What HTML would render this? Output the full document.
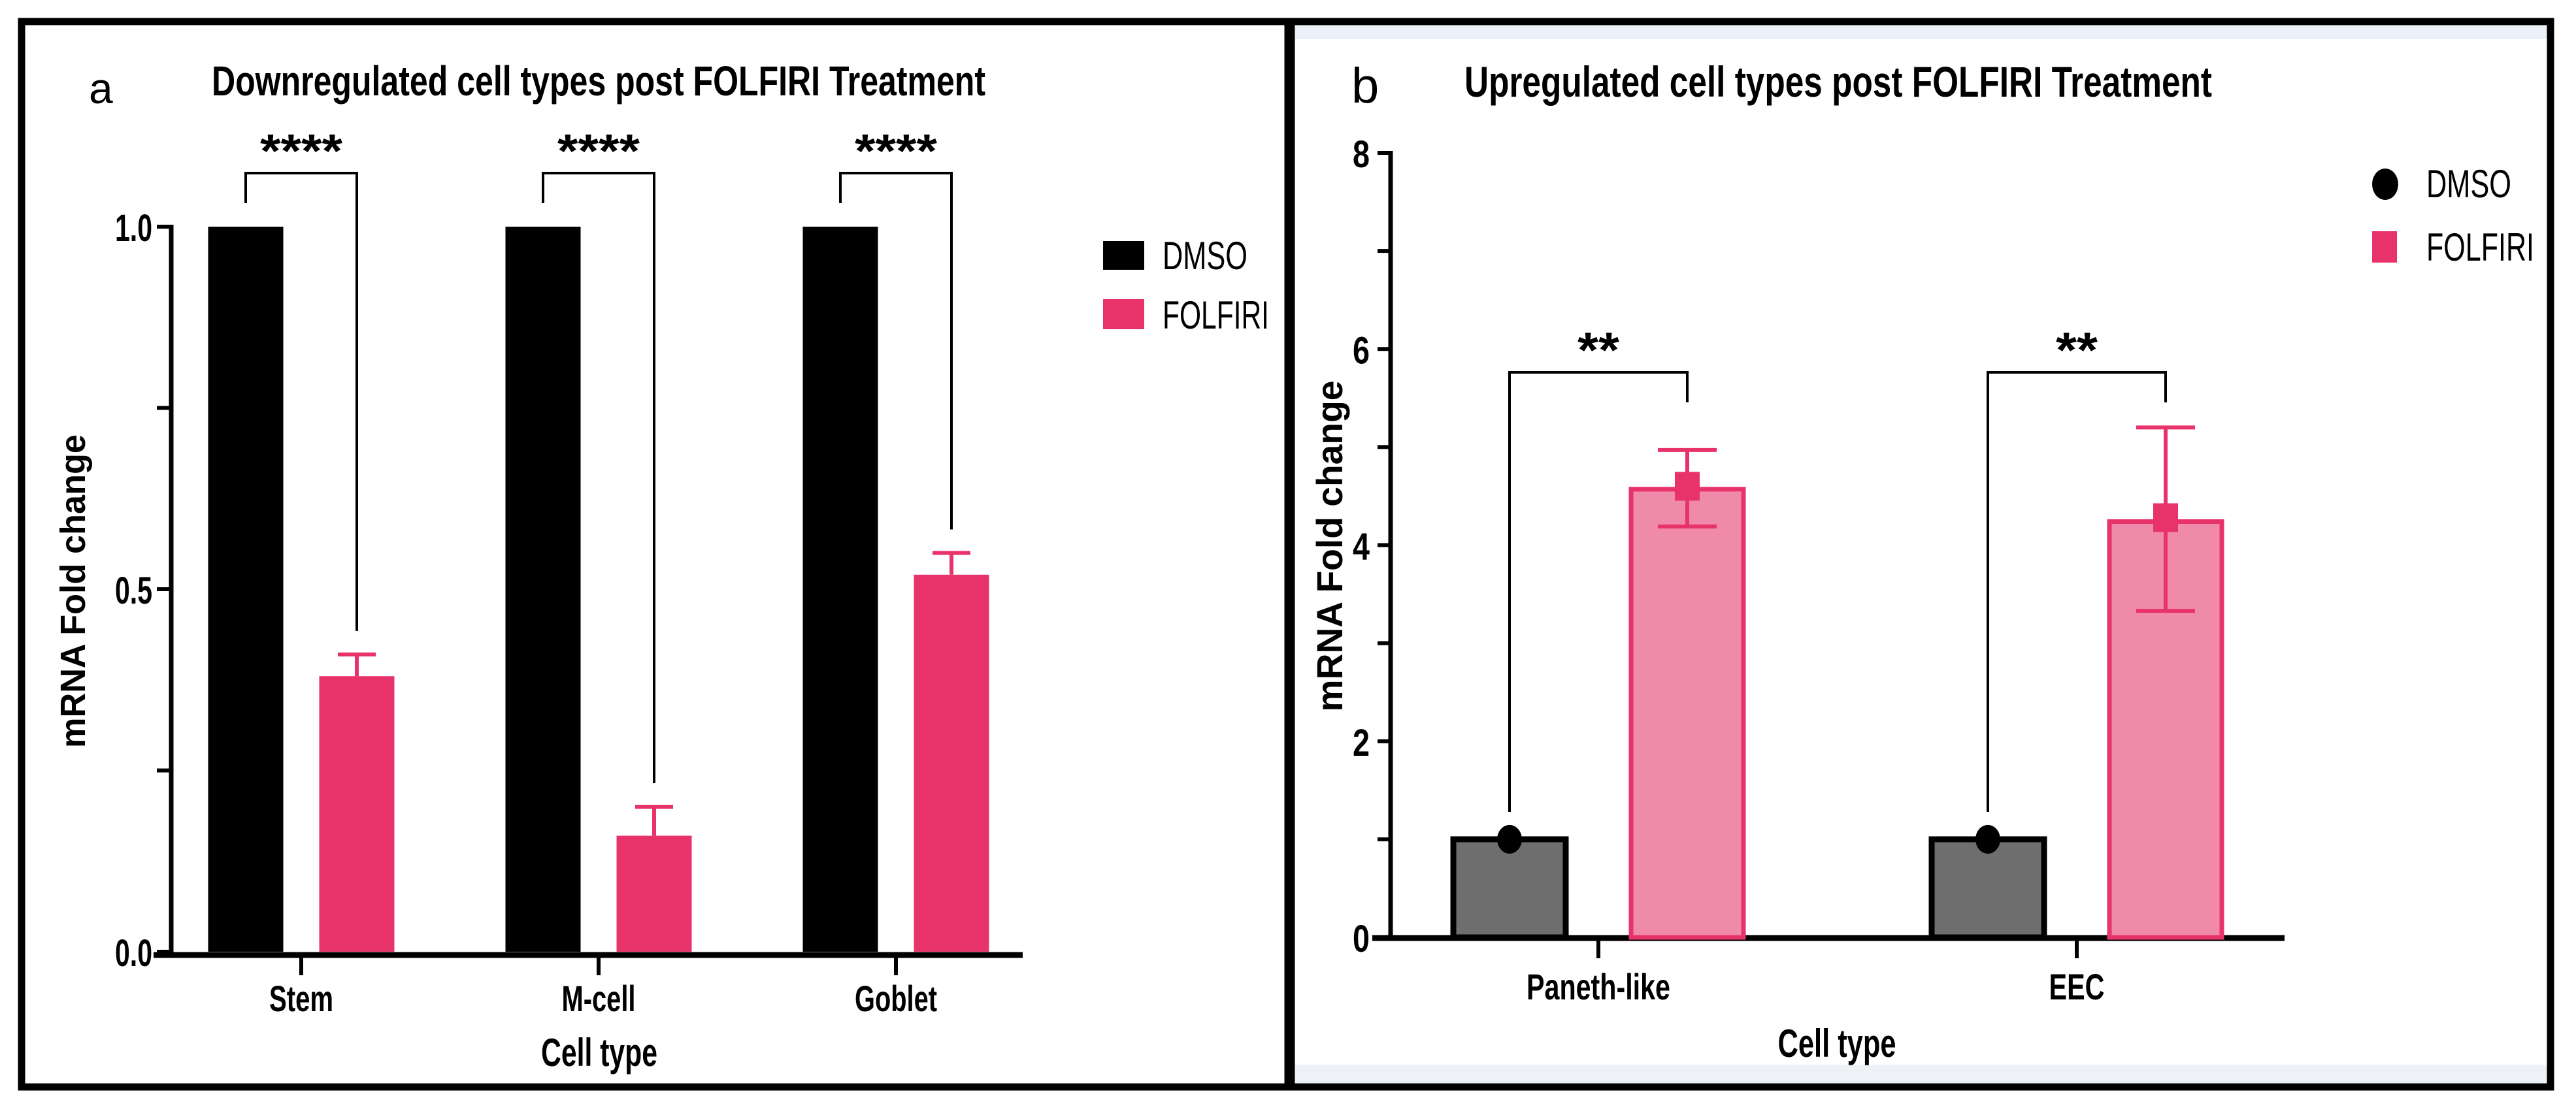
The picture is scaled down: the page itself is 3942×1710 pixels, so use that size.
<!DOCTYPE html>
<html><head><meta charset="utf-8"><style>
html,body{margin:0;padding:0;background:#fff;}
svg{display:block;}
text{font-family:"Liberation Sans",sans-serif;}
</style></head><body>
<svg id="fig" width="3942" height="1710" viewBox="0 0 3942 1710" xmlns="http://www.w3.org/2000/svg">
<rect x="0" y="0" width="3942" height="1710" fill="#fff"/>
<rect x="1981" y="38" width="1919" height="22" fill="#eaf1f9"/>
<rect x="1981" y="1630" width="1919" height="30" fill="#eef2f6"/>
<rect x="33" y="33" width="1938" height="1631" fill="none" stroke="#000" stroke-width="11"/>
<rect x="1976" y="33" width="1927" height="1631" fill="none" stroke="#000" stroke-width="11"/>
<g id="pa"></g>
<g id="pb"></g>
</svg>
<script>
// Panel a data
const catsA = ["Stem", "M-cell", "Goblet"];
const dmsoA = [1.0, 1.0, 1.0];
const folfA = [0.38, 0.16, 0.52];
const folfErrA = [0.03, 0.04, 0.03];
const yTicksA = [0.0, 0.5, 1.0];
const yTickLabelsA = ["0.0", "0.5", "1.0"];
const sigA = ["****", "****", "****"];
// Panel b data
const catsB = ["Paneth-like", "EEC"];
const dmsoB = [1.0, 1.0];
const folfB = [4.57, 4.24];
const folfMarkB = [4.6, 4.28];
const folfErrHiB = [4.97, 5.2];
const folfErrLoB = [4.19, 3.33];
const yTicksB = [0, 2, 4, 6, 8];
const yTickLabelsB = ["0", "2", "4", "6", "8"];
const sigB = ["**", "**"];

const NS = "http://www.w3.org/2000/svg";
function mk(parent, tag, attrs, txt) {
  const e = document.createElementNS(NS, tag);
  for (const k in attrs) e.setAttribute(k, attrs[k]);
  if (txt !== undefined) e.textContent = txt;
  parent.appendChild(e);
  return e;
}
// condensed text: fit to width
function tx(parent, attrs, txt, w) {
  const a = Object.assign({}, attrs);
  if (w) { a.textLength = w; a.lengthAdjust = "spacingAndGlyphs"; }
  return mk(parent, "text", a, txt);
}
const PINK = "#e8336a";
const labW = {"Stem": 98, "M-cell": 113, "Goblet": 126, "Paneth-like": 220, "EEC": 85};

// ---------- Panel a ----------
(function () {
  const g = document.getElementById("pa");
  const y0 = 1457, y1 = 347;
  const ya = v => y0 - v * (y0 - y1);
  const xc = i => 461 + i * 455;
  const bw = 115, off = 85;
  let t;
  t = tx(g, {x: 136, y: 158, "font-size": 66}, "a");
  
  
  t = tx(g, {x: 324, y: 146, "font-size": 64, "font-weight": "bold"}, "Downregulated cell types post FOLFIRI Treatment", 1184);
  
  
  let a = mk(g, "line", {x1: 262, y1: y1 - 3, x2: 262, y2: y0 + 8, stroke: "#000", "stroke-width": 7});
  
  
  a = mk(g, "line", {x1: 235, y1: y0 + 5, x2: 1565, y2: y0 + 5, stroke: "#000", "stroke-width": 9});
  
  
  for (let v = 0; v <= 1.0001; v += 0.25) {
    const l = mk(g, "line", {x1: 240, y1: ya(v), x2: 262, y2: ya(v), stroke: "#000", "stroke-width": 6});
    
    
  }
  yTicksA.forEach((v, i) => {
    const tt = tx(g, {x: 176, y: ya(v) + 22, "font-size": 58, "font-weight": "bold"}, yTickLabelsA[i], 57);
    
    
  });
  t = tx(g, {x: 0, y: 0, "font-size": 54, "font-weight": "bold", "text-anchor": "middle", transform: "translate(130,905) rotate(-90)"}, "mRNA Fold change", 480);
  
  
  t = tx(g, {x: 917, y: 1632, "font-size": 60, "font-weight": "bold", "text-anchor": "middle"}, "Cell type", 178);
  
  
  catsA.forEach((c, i) => {
    const x = xc(i);
    let e = mk(g, "line", {x1: x, y1: y0 + 8, x2: x, y2: y0 + 36, stroke: "#000", "stroke-width": 6});
    
    
    e = tx(g, {x: x, y: 1548, "font-size": 56, "font-weight": "bold", "text-anchor": "middle"}, c, labW[c]);
    
    
    e = mk(g, "rect", {x: x - off - bw / 2, y: ya(dmsoA[i]), width: bw, height: y0 - ya(dmsoA[i]), fill: "#000"});
    
    
    e = mk(g, "rect", {x: x + off - bw / 2, y: ya(folfA[i]), width: bw, height: y0 - ya(folfA[i]), fill: PINK});
    
    
    const eh = ya(folfA[i] + folfErrA[i]);
    e = mk(g, "path", {d: `M${x + off},${ya(folfA[i])}V${eh}M${x + off - 29},${eh}H${x + off + 29}`, stroke: PINK, "stroke-width": 6, fill: "none"});
    
    
    const bl = x - off, br = x + off, by = 265;
    e = mk(g, "path", {d: `M${bl},311V${by}H${br}V${eh - 36}`, stroke: "#000", "stroke-width": 4, fill: "none"});
    
    
    e = tx(g, {x: x - 63, y: 256, "font-size": 72, "font-weight": "bold"}, sigA[i], 126);
    
    
  });
  let e = mk(g, "rect", {x: 1688, y: 369, width: 63, height: 44, fill: "#000"});
  
  
  e = tx(g, {x: 1779, y: 412, "font-size": 60}, "DMSO", 130);
  
  
  e = mk(g, "rect", {x: 1688, y: 458, width: 63, height: 46, fill: PINK});
  
  
  e = tx(g, {x: 1779, y: 503, "font-size": 60}, "FOLFIRI", 163);
  
  
})();

// ---------- Panel b ----------
(function () {
  const g = document.getElementById("pb");
  const y0 = 1435, y8 = 234;
  const yb = v => y0 - v * (y0 - y8) / 8;
  const xc = i => 2446 + i * 732;
  const bw = 172, off = 136;
  let t;
  t = tx(g, {x: 2068, y: 157, "font-size": 76}, "b");
  
  
  t = tx(g, {x: 2241, y: 148, "font-size": 66, "font-weight": "bold"}, "Upregulated cell types post FOLFIRI Treatment", 1144);
  
  
  let a = mk(g, "line", {x1: 2128, y1: y8 - 3, x2: 2128, y2: y0 + 5, stroke: "#000", "stroke-width": 7});
  
  
  a = mk(g, "line", {x1: 2100, y1: y0 + 1, x2: 3496, y2: y0 + 1, stroke: "#000", "stroke-width": 9});
  
  
  for (let v = 0; v <= 8; v++) {
    const l = mk(g, "line", {x1: 2108, y1: yb(v), x2: 2128, y2: yb(v), stroke: "#000", "stroke-width": 6});
    
    
  }
  yTicksB.forEach((v, i) => {
    const tt = tx(g, {x: 2070, y: yb(v) + 22, "font-size": 58, "font-weight": "bold"}, yTickLabelsB[i], 26);
    
    
  });
  t = tx(g, {x: 0, y: 0, "font-size": 56, "font-weight": "bold", "text-anchor": "middle", transform: "translate(2054,836) rotate(-90)"}, "mRNA Fold change", 507);
  
  
  t = tx(g, {x: 2811, y: 1618, "font-size": 60, "font-weight": "bold", "text-anchor": "middle"}, "Cell type", 181);
  
  
  catsB.forEach((c, i) => {
    const x = xc(i);
    let e = mk(g, "line", {x1: x, y1: y0 + 5, x2: x, y2: y0 + 32, stroke: "#000", "stroke-width": 6});
    
    
    e = tx(g, {x: x, y: 1530, "font-size": 56, "font-weight": "bold", "text-anchor": "middle"}, c, labW[c]);
    
    
    const dx = x - off, fx = x + off;
    e = mk(g, "rect", {x: dx - bw / 2, y: yb(dmsoB[i]), width: bw, height: y0 - yb(dmsoB[i]), fill: "#6e6e6e", stroke: "#000", "stroke-width": 9});
    
    
    e = mk(g, "ellipse", {cx: dx, cy: yb(dmsoB[i]), rx: 19, ry: 22, fill: "#000"});
    
    
    e = mk(g, "rect", {x: fx - bw / 2, y: yb(folfB[i]), width: bw, height: y0 - yb(folfB[i]), fill: "#ef8aab", stroke: PINK, "stroke-width": 7});
    
    
    const hi = yb(folfErrHiB[i]), lo = yb(folfErrLoB[i]);
    e = mk(g, "path", {d: `M${fx},${hi}V${lo}M${fx - 45},${hi}H${fx + 45}M${fx - 45},${lo}H${fx + 45}`, stroke: PINK, "stroke-width": 6, fill: "none"});
    
    
    e = mk(g, "rect", {x: fx - 19, y: yb(folfMarkB[i]) - 22, width: 38, height: 44, fill: PINK});
    
    
    e = mk(g, "path", {d: `M${dx},1243V570H${fx}V616`, stroke: "#000", "stroke-width": 4, fill: "none"});
    
    
    e = tx(g, {x: (dx + fx) / 2 - 32, y: 562, "font-size": 76, "font-weight": "bold"}, sigB[i], 64);
    
    
  });
  let e = mk(g, "ellipse", {cx: 3650, cy: 282, rx: 20, ry: 24, fill: "#000"});
  
  
  e = tx(g, {x: 3713, y: 302, "font-size": 60}, "DMSO", 130);
  
  
  e = mk(g, "rect", {x: 3630, y: 354, width: 38, height: 48, fill: PINK});
  
  
  e = tx(g, {x: 3713, y: 399, "font-size": 60}, "FOLFIRI", 165);
  
  
})();
</script>
</body></html>
